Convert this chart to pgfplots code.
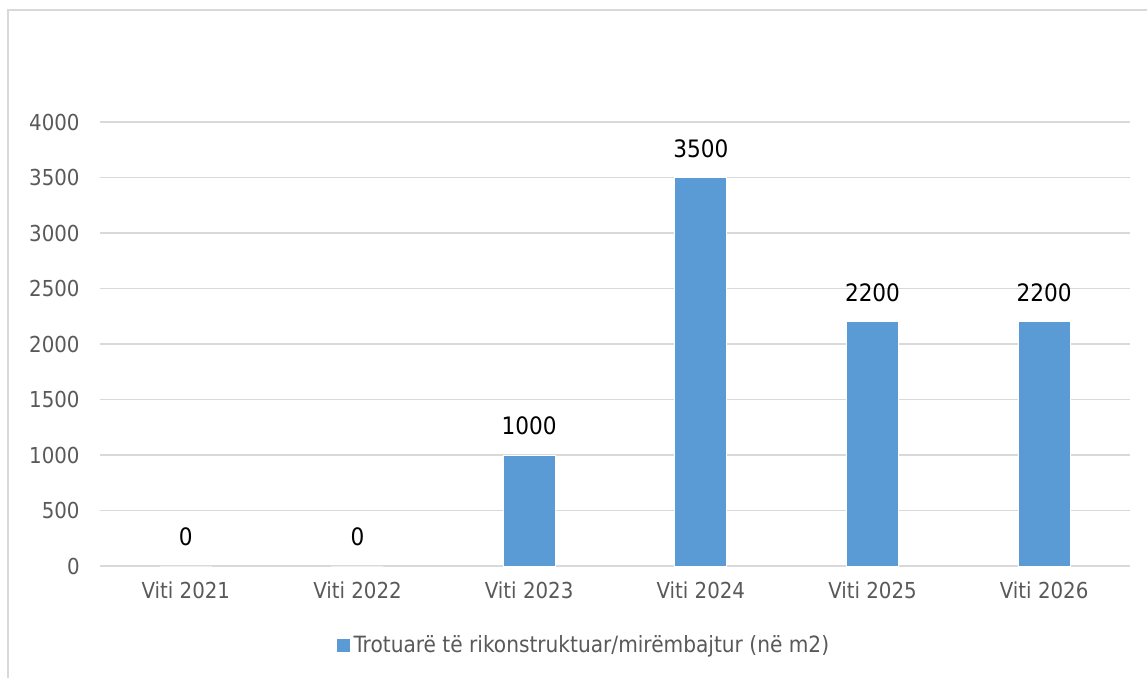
\documentclass[border=0pt]{standalone}
\usepackage{pgfplots}
\pgfplotsset{compat=1.18}
\usepackage{fontspec}
\setmainfont{DejaVu Sans Condensed}
\definecolor{barblue}{HTML}{5B9BD5}
\definecolor{txtgray}{HTML}{595959}
\definecolor{gridgray}{HTML}{D9D9D9}
\begin{document}
\begin{tikzpicture}
\useasboundingbox (-50pt,-55.5pt) rectangle (523.5pt,283pt);
% chart frame, cut off on the right and bottom
\draw[gridgray, line width=1pt] (-46pt,-80pt) -- (-46pt,278pt) -- (540pt,278pt);
\begin{axis}[
  at={(0,0)}, anchor=south west,
  scale only axis, width=515pt, height=222pt,
  ymin=0, ymax=4000, ytick={0,500,...,4000},
  xmin=-0.5, xmax=5.5, xtick=data,
  xticklabels={Viti 2021,Viti 2022,Viti 2023,Viti 2024,Viti 2025,Viti 2026},
  ybar, bar width=26pt,
  axis x line*=bottom, axis y line*=left,
  y axis line style={draw=none},
  x axis line style={gridgray, line width=0.8pt},
  major tick length=0pt,
  ymajorgrids, grid style={gridgray, line width=0.8pt},
  /pgf/number format/1000 sep=,
  /pgf/number format/assume math mode=true,
  tick label style={font=\fontsize{11}{13}\selectfont, text=txtgray},
  yticklabel style={anchor=east, inner sep=0pt, xshift=-10pt},
  xticklabel style={anchor=center, inner sep=0pt, yshift=-12pt},
  nodes near coords,
  every node near coord/.append style={font=\fontsize{12}{14}\selectfont, text=black, anchor=center, yshift=14.5pt},
  legend style={draw=none, at={(0.4709,-0.178)}, anchor=center,
    font=\fontsize{11.2}{13}\selectfont, text=txtgray},
  legend image code/.code={\fill[barblue] (-1pt,-3pt) rectangle (5pt,3pt);},
]
\addplot[fill=barblue, draw=white, line width=0.4pt]
  coordinates {(0,0) (1,0) (2,1000) (3,3500) (4,2200) (5,2200)};
\legend{Trotuarë të rikonstruktuar/mirëmbajtur (në m2)}
\end{axis}
\end{tikzpicture}
\end{document}
